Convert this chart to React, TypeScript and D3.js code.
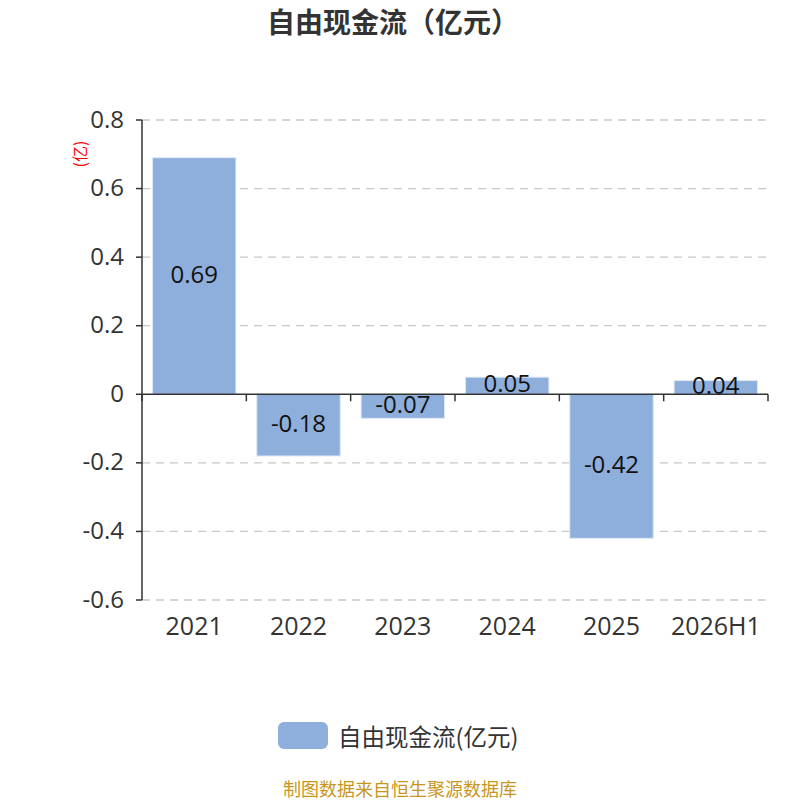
import React from "react";
import * as d3 from "d3";

const categories = ["2021", "2022", "2023", "2024", "2025", "2026H1"];
const values = [0.69, -0.18, -0.07, 0.05, -0.42, 0.04];
const labels = ["0.69", "-0.18", "-0.07", "0.05", "-0.42", "0.04"];
const yTicks = [0.8, 0.6, 0.4, 0.2, 0, -0.2, -0.4, -0.6];
const yTickLabels = ["0.8", "0.6", "0.4", "0.2", "0", "-0.2", "-0.4", "-0.6"];

const W = 800;
const H = 800;
const left = 142;
const right = 768;
const top = 120;
const bottom = 600;
const CJK = "'Noto Sans CJK SC', 'Noto Sans', sans-serif";
const NUM = "'Open Sans', 'Noto Sans', sans-serif";
const BAR = "#8eaedb";

export default function App() {
  const x = d3.scaleBand<string>().domain(categories).range([left, right]).paddingInner(0.2).paddingOuter(0.1);
  const y = d3.scaleLinear().domain([-0.6, 0.8]).range([bottom, top]);
  const boundaries = d3.range(categories.length + 1).map((i) => left + i * ((right - left) / categories.length));

  return (
    <svg width={W} height={H} style={{ position: "absolute", left: 0, top: 0 }} fontFamily={CJK}>
      <rect width={W} height={H} fill="#fff" />
      <text x={393} y={33} textAnchor="middle" fontSize={28} fontWeight="bold" fill="#333">
        自由现金流（亿元）
      </text>
      {yTicks.map((t, i) => (
        <g key={t}>
          {t !== 0 && (
            <line x1={left} x2={right} y1={y(t)} y2={y(t)} stroke="#c8c8c8" strokeWidth={1.3} strokeDasharray="8,6" />
          )}
          <line x1={left - 6} x2={left} y1={y(t)} y2={y(t)} stroke="#333" strokeWidth={1.5} />
          <text x={124} y={y(t) - 2} textAnchor="end" dominantBaseline="central" fontSize={24} fill="#333" fontFamily={NUM}>
            {yTickLabels[i]}
          </text>
        </g>
      ))}
      {categories.map((c, i) => {
        const v = values[i];
        const y0 = y(0);
        const y1 = y(v);
        const bx = x(c)!;
        return (
          <g key={c}>
            <rect
              x={bx}
              y={Math.min(y0, y1)}
              width={x.bandwidth()}
              height={Math.abs(y1 - y0)}
              fill={BAR}
              stroke="#dfe8f5"
              strokeWidth={1}
            />
            <text
              x={bx + x.bandwidth() / 2}
              y={(y0 + y1) / 2 - 3}
              textAnchor="middle"
              dominantBaseline="central"
              fontSize={24}
              fill="#111"
              fontFamily={NUM}
            >
              {labels[i]}
            </text>
            <text
              x={bx + x.bandwidth() / 2}
              y={625}
              textAnchor="middle"
              dominantBaseline="central"
              fontSize={25}
              fill="#333"
              fontFamily={NUM}
            >
              {c}
            </text>
          </g>
        );
      })}
      <line x1={left} x2={right} y1={y(0)} y2={y(0)} stroke="#333" strokeWidth={1.5} />
      {boundaries.map((bx, i) => (
        <line key={i} x1={bx} x2={bx} y1={y(0)} y2={y(0) + 7} stroke="#333" strokeWidth={1.5} />
      ))}
      <line x1={left} x2={left} y1={top} y2={bottom} stroke="#333" strokeWidth={1.5} />
      <text
        transform={`translate(79,154) rotate(-90)`}
        textAnchor="middle"
        dominantBaseline="central"
        fontSize={16}
        fill="red"
      >
        (亿)
      </text>
      <rect x={278} y={722} width={50} height={27} rx={6} fill={BAR} />
      <text x={338} y={735.5} dominantBaseline="central" fontSize={23.5} fill="#333">
        自由现金流(亿元)
      </text>
      <text x={400} y={788} textAnchor="middle" dominantBaseline="central" fontSize={18} fill="#c8961e">
        制图数据来自恒生聚源数据库
      </text>
    </svg>
  );
}
